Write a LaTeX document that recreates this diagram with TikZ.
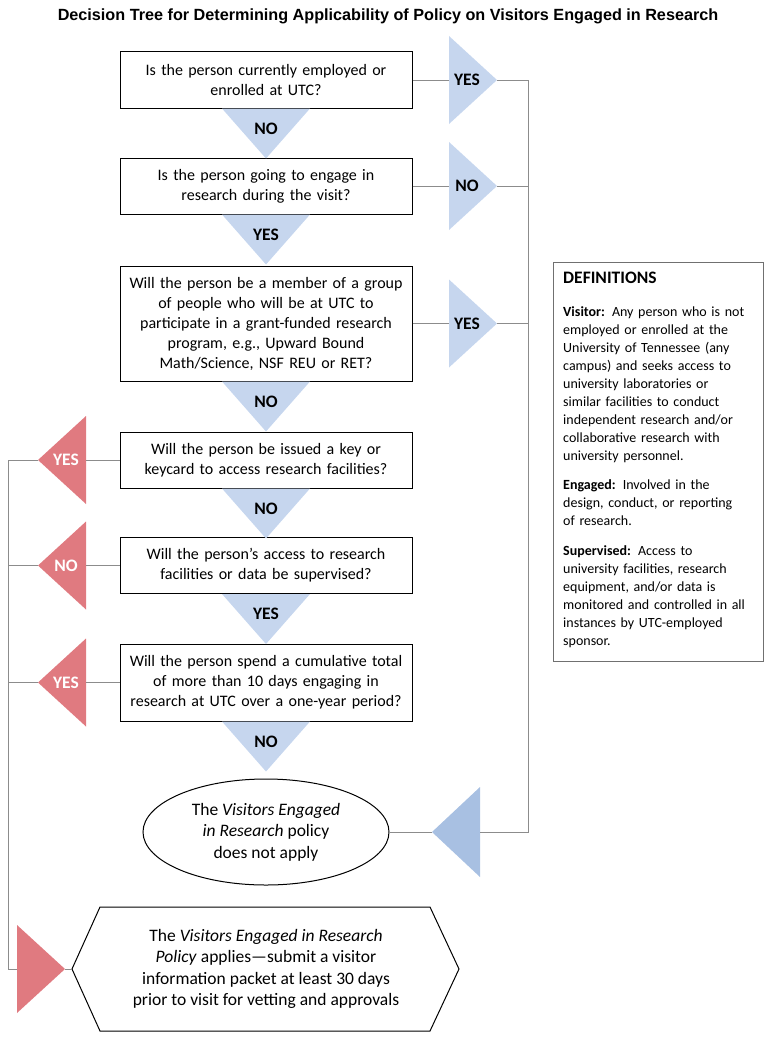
\documentclass[tikz,border=0pt]{standalone}
\usepackage{fontspec}
\setmainfont{Carlito}
\newfontfamily\titlefont{Liberation Sans}
\usetikzlibrary{positioning,shapes.geometric,calc}

\definecolor{triblue}{HTML}{C6D6EE}
\definecolor{endblue}{HTML}{A8C0E2}
\definecolor{trired}{HTML}{E07A80}
\definecolor{linegray}{HTML}{8C8C8C}

\begin{document}
\begin{tikzpicture}[x=1pt,y=-1pt,
    question/.style={draw,line width=1pt,minimum width=292pt,text width=288pt,
      align=center,inner sep=0pt,font=\fontsize{16}{20}\selectfont},
    conn/.style={draw=linegray,line width=0.8pt},
    tag/.style={font=\fontsize{17.5}{18}\selectfont\bfseries},
    body/.style={font=\fontsize{17.5}{21.6}\selectfont}]
  \useasboundingbox (0,0) rectangle (770,1041);

  \node[font=\titlefont\bfseries\fontsize{16.2}{18}\selectfont] (title) at (388,16)
    {Decision Tree for Determining Applicability of Policy on Visitors Engaged in Research};

  % questions
  \node[question,minimum height=56pt] (q1) at (266,80) {Is the person currently employed or\\enrolled at UTC?};
  \node[question,minimum height=56pt] (q2) at (266,186) {Is the person going to engage in\\research during the visit?};
  \node[question,minimum height=115pt] (q3) at (266,323.5) {Will the person be a member of a group\\of people who will be at UTC to\\participate in a grant-funded research\\program, e.g., Upward Bound\\Math/Science, NSF REU or RET?};
  \node[question,minimum height=56pt] (q4) at (266,460) {Will the person be issued a key or\\keycard to access research facilities?};
  \node[question,minimum height=56pt] (q5) at (266,565.5) {Will the person’s access to research\\facilities or data be supervised?};
  \node[question,minimum height=77pt] (q6) at (266,682.5) {Will the person spend a cumulative total\\of more than 10 days engaging in\\research at UTC over a one-year period?};

  % outcomes
  \node[draw,ellipse,line width=1pt,minimum width=246pt,minimum height=106pt,inner sep=0pt,
    align=center,body] (notapply) at (266,832) {The \textit{Visitors Engaged}\\\textit{in Research} policy\\does not apply};
  \draw[line width=1pt] (72,969) coordinate (hexwest) -- (100,907) -- (430,907) -- (459,969)
    -- (430,1031) -- (100,1031) -- cycle;
  \node[align=center,body] (applies) at (266,969) {The \textit{Visitors Engaged in Research}\\\textit{Policy} applies—submit a visitor\\information packet at least 30 days\\prior to visit for vetting and approvals};

  % down answers
  \foreach \q/\t in {q1/NO,q2/YES,q3/NO,q4/NO,q5/YES,q6/NO}{
    \fill[triblue] ([xshift=-44pt]\q.south) -- ([xshift=44pt]\q.south) -- ([yshift=-50pt]\q.south) -- cycle;
    \node[tag] (\q-down) at ([yshift=-20pt]\q.south) {\t};
  }

  % answers to the right
  \foreach \n/\y/\t in {y1/80/YES,y2/186/NO,y3/323.5/YES}{
    \coordinate (\n-b) at (449,\y);
    \coordinate (\n-t) at (497,\y);
    \fill[triblue] (\n-b) -- ++(0,-44) -- (\n-t) -- ++(-48,44) -- cycle;
    \node[tag] (\n-tag) at (467,\y) {\t};
  }
  \coordinate (et-t) at (432,832);
  \coordinate (et-b) at (480,832);
  \fill[endblue] (et-t) -- ++(48,-45) -- ++(0,90) -- cycle;
  \coordinate (rbus) at (528,80);

  % answers to the left
  \foreach \n/\y/\t in {k4/460/YES,k5/565.5/NO,k6/682.5/YES}{
    \coordinate (\n-t) at (38,\y);
    \coordinate (\n-b) at (86,\y);
    \fill[trired] (\n-t) -- ++(48,-44) -- ++(0,88) -- cycle;
    \node[tag,text=white] (\n-tag) at (66,\y) {\t};
  }
  \coordinate (ap-b) at (17,969);
  \coordinate (ap-t) at (65,969);
  \fill[trired] (ap-t) -- ++(-48,-44) -- ++(0,88) -- cycle;
  \coordinate (lbus) at (8,460);

  % connectors
  \draw[conn] (q1.east) -- (y1-b);
  \draw[conn] (q2.east) -- (y2-b);
  \draw[conn] (q3.east) -- (y3-b);
  \draw[conn] (y1-t) -- (rbus) |- (et-b);
  \draw[conn] (y2-t) -- (y2-t -| rbus);
  \draw[conn] (y3-t) -- (y3-t -| rbus);
  \draw[conn] (et-t) -- (notapply.east);
  \draw[conn] (q4.west) -- (k4-b);
  \draw[conn] (q5.west) -- (k5-b);
  \draw[conn] (q6.west) -- (k6-b);
  \draw[conn] (k4-t) -- (lbus) |- (ap-b);
  \draw[conn] (k5-t) -- (k5-t -| lbus);
  \draw[conn] (k6-t) -- (k6-t -| lbus);
  \draw[conn] (ap-t) -- (hexwest);

  % definitions
  \node[draw=linegray!80!black,line width=0.9pt,anchor=north west,minimum width=210pt,
    minimum height=399pt] (defs) at (553,262) {};
  \node[anchor=north west,text width=200pt,inner sep=0pt,align=left,
    font=\fontsize{14}{18}\selectfont] (defstext) at ([xshift=10pt,yshift=-10pt]defs.north west)
    {{\fontsize{17.5}{18}\selectfont\bfseries DEFINITIONS}\\[15pt]
     \textbf{Visitor:} Any person who is not\\employed or enrolled at the\\University of Tennessee (any\\campus) and seeks access to\\university laboratories or\\similar facilities to conduct\\independent research and/or\\collaborative research with\\university personnel.\\[11pt]
     \textbf{Engaged:} Involved in the\\design, conduct, or reporting\\of research.\\[12pt]
     \textbf{Supervised:} Access to\\university facilities, research\\equipment, and/or data is\\monitored and controlled in all\\instances by UTC-employed\\sponsor.};
\end{tikzpicture}
\end{document}
